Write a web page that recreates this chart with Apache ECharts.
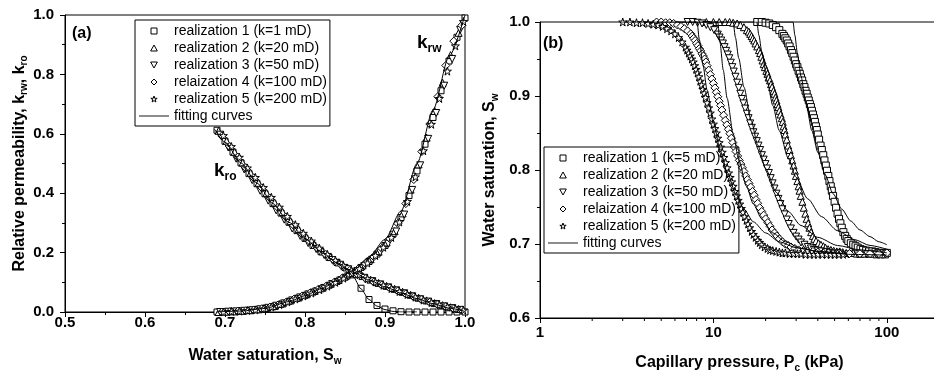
<!DOCTYPE html>
<html>
<head>
<meta charset="utf-8">
<script src="https://cdn.jsdelivr.net/npm/echarts@6/dist/echarts.min.js"></script>
<style>
  html, body { margin: 0; padding: 0; background: #fff; }
  #chart { width: 934px; height: 376px; }
</style>
</head>
<body>
<div id="chart"></div>
<script>
// ---- (a) relative permeability ----
const leftNames = ["realization 1 (k=1 mD)", "realization 2 (k=20 mD)", "realization 3 (k=50 mD)", "relaization 4 (k=100 mD)", "realization 5 (k=200 mD)"];

const swR1 = [0.690,0.700,0.710,0.720,0.730,0.740,0.750,0.760,0.770,0.780,0.790,0.800,0.810,0.820,0.830,0.840,0.850,0.860,0.870,0.880,0.890,0.900,0.910,0.920,0.930,0.940,0.950,0.960,0.970,0.980,0.990,1.000];
const krwR1 = [0.000,0.001,0.002,0.003,0.005,0.008,0.012,0.018,0.026,0.036,0.046,0.056,0.067,0.078,0.090,0.103,0.117,0.132,0.150,0.170,0.195,0.224,0.262,0.318,0.392,0.475,0.565,0.655,0.745,0.845,0.925,0.990];
const kroR1 = [0.612,0.575,0.538,0.502,0.466,0.432,0.398,0.365,0.333,0.302,0.274,0.248,0.224,0.203,0.184,0.167,0.150,0.125,0.080,0.042,0.022,0.010,0.004,0.001,0.000,0.000,0.000,0.000,0.000,0.000,0.000,0.000];

const swR2 = [0.692,0.702,0.712,0.722,0.732,0.742,0.752,0.762,0.772,0.782,0.792,0.802,0.812,0.822,0.832,0.842,0.852,0.862,0.872,0.882,0.892,0.902,0.912,0.922,0.932,0.942,0.952,0.962,0.972,0.982,0.992];
const krwR2 = [0.000,0.001,0.002,0.004,0.006,0.009,0.014,0.020,0.029,0.039,0.049,0.060,0.071,0.082,0.095,0.108,0.123,0.139,0.157,0.178,0.203,0.234,0.272,0.332,0.412,0.497,0.587,0.677,0.772,0.865,0.940];
const kroR2 = [0.610,0.576,0.539,0.503,0.469,0.435,0.401,0.369,0.337,0.306,0.279,0.251,0.226,0.204,0.185,0.167,0.150,0.134,0.121,0.109,0.098,0.088,0.078,0.068,0.058,0.048,0.039,0.030,0.023,0.016,0.010];

const swR3 = [0.694,0.704,0.714,0.724,0.734,0.744,0.754,0.764,0.774,0.784,0.794,0.804,0.814,0.824,0.834,0.844,0.854,0.864,0.874,0.884,0.894,0.904,0.914,0.924,0.934,0.944,0.954,0.964,0.974,0.984,0.994];
const krwR3 = [0.000,0.001,0.002,0.004,0.006,0.009,0.014,0.021,0.029,0.039,0.049,0.059,0.069,0.081,0.094,0.106,0.120,0.136,0.154,0.176,0.201,0.230,0.271,0.328,0.411,0.494,0.583,0.670,0.762,0.852,0.950];
const kroR3 = [0.597,0.554,0.516,0.480,0.444,0.408,0.375,0.342,0.311,0.281,0.256,0.232,0.212,0.192,0.175,0.159,0.144,0.128,0.115,0.104,0.093,0.083,0.073,0.063,0.053,0.043,0.035,0.027,0.019,0.013,0.007];

const swR4 = [0.696,0.706,0.716,0.726,0.736,0.746,0.756,0.766,0.776,0.786,0.796,0.806,0.816,0.826,0.836,0.846,0.856,0.866,0.876,0.886,0.896,0.906,0.916,0.926,0.936,0.946,0.956,0.966,0.976,0.986,0.996];
const krwR4 = [0.000,0.001,0.003,0.004,0.007,0.011,0.016,0.023,0.032,0.043,0.053,0.064,0.075,0.086,0.099,0.113,0.127,0.144,0.163,0.186,0.214,0.247,0.298,0.365,0.446,0.540,0.633,0.725,0.830,0.912,0.965];
const kroR4 = [0.593,0.557,0.522,0.486,0.452,0.418,0.384,0.352,0.320,0.291,0.263,0.238,0.214,0.194,0.175,0.157,0.140,0.126,0.113,0.101,0.091,0.081,0.071,0.061,0.051,0.042,0.033,0.025,0.018,0.011,0.007];

const swR5 = [0.698,0.708,0.718,0.728,0.738,0.748,0.758,0.768,0.778,0.788,0.798,0.808,0.818,0.828,0.838,0.848,0.858,0.868,0.878,0.888,0.898,0.908,0.918,0.928,0.938,0.948,0.958,0.968,0.978,0.988,0.998];
const krwR5 = [0.000,0.002,0.003,0.005,0.007,0.011,0.017,0.025,0.034,0.044,0.054,0.064,0.075,0.087,0.100,0.114,0.129,0.146,0.165,0.190,0.218,0.251,0.303,0.372,0.455,0.543,0.632,0.719,0.811,0.896,0.978];
const kroR5 = [0.594,0.557,0.521,0.485,0.453,0.419,0.386,0.353,0.322,0.294,0.265,0.239,0.215,0.194,0.174,0.156,0.140,0.126,0.112,0.101,0.090,0.079,0.069,0.059,0.050,0.040,0.032,0.024,0.017,0.011,0.006];

// fitting curves (a)
const fitKrwSw = [0.690,0.720,0.750,0.780,0.800,0.820,0.840,0.860,0.880,0.900,0.920,0.940,0.960,0.980,1.000];
const fitKrw = [0.000,0.003,0.012,0.035,0.055,0.078,0.105,0.140,0.185,0.245,0.340,0.500,0.680,0.860,1.000];
const fitKroSw = [0.687,0.700,0.720,0.740,0.760,0.780,0.800,0.820,0.840,0.860,0.880,0.900,0.920,0.940,0.960,0.980,1.000];
const fitKro = [0.615,0.572,0.502,0.434,0.365,0.302,0.248,0.203,0.166,0.135,0.108,0.085,0.064,0.045,0.028,0.013,0.002];
const fitKroSteepSw = [0.840,0.850,0.860,0.870,0.880,0.890,0.900,0.910,0.920,0.940];
const fitKroSteep = [0.166,0.148,0.120,0.078,0.042,0.020,0.008,0.002,0.000,0.000];

// ---- (b) capillary pressure ----
const rightNames = ["realization 1 (k=5 mD)", "realization 2 (k=20 mD)", "realization 3 (k=50 mD)", "relaization 4 (k=100 mD)", "realization 5 (k=200 mD)"];

const pcR1 = [17.9,19,20,21,22,23,24,25,25.5,26,26.5,27,27.5,28,28.5,29,29.5,30,30.5,31,31.5,32,32.5,33,33.5,34,34.5,35,35.5,36,36.5,37,37.5,38,38.5,39,39.5,40,40.7,41.5,42.2,43,43.7,44.5,45.2,46,46.7,47.5,48.2,49,50,51,52,53,54,55,56.2,57.5,58.7,60,62,64,66,68,70.5,73,76,79,82.5,86,89.5,93,96.5,100];
const swPcR1 = [1.000,1.000,0.999,0.998,0.996,0.993,0.989,0.984,0.981,0.978,0.975,0.971,0.967,0.962,0.958,0.953,0.948,0.943,0.939,0.934,0.930,0.925,0.921,0.916,0.912,0.907,0.903,0.898,0.894,0.889,0.885,0.880,0.875,0.870,0.865,0.859,0.854,0.848,0.841,0.833,0.827,0.820,0.813,0.806,0.799,0.792,0.785,0.778,0.772,0.765,0.757,0.749,0.741,0.734,0.728,0.722,0.716,0.711,0.707,0.704,0.701,0.699,0.697,0.695,0.693,0.692,0.691,0.690,0.690,0.689,0.688,0.688,0.688,0.688];

const pcR2 = [9.1,10.0,10.8,11.7,12.4,13.0,13.7,14.3,15.0,15.6,16.0,16.3,16.6,16.9,17.2,17.5,17.9,18.3,18.6,18.9,19.2,19.5,19.8,20.2,20.5,20.8,21.2,21.5,21.8,22.2,22.5,22.8,23.1,23.4,23.7,24.0,24.4,24.8,25.1,25.4,25.7,26.0,26.5,27.0,27.5,28.0,28.5,29.0,29.5,29.9,30.5,31.0,31.4,31.9,32.6,33.2,33.9,34.5,35.2,35.8,36.6,37.5,38.2,39.1,40.4,41.7,43.1,44.3,45.9,47.6,49.4,51.5,53.6,55.7,58.3,60.9,64,67.2,70.4,74.6,78.8,83,87.2,92.4,97.7];
const swPcR2 = [1.000,1.000,1.000,1.000,1.000,0.999,0.998,0.996,0.993,0.989,0.987,0.984,0.981,0.978,0.975,0.971,0.967,0.962,0.958,0.953,0.948,0.943,0.939,0.934,0.930,0.925,0.921,0.916,0.912,0.907,0.903,0.898,0.894,0.889,0.885,0.880,0.875,0.870,0.865,0.859,0.854,0.848,0.841,0.833,0.827,0.820,0.813,0.806,0.799,0.792,0.785,0.778,0.772,0.765,0.757,0.749,0.741,0.734,0.728,0.722,0.716,0.711,0.707,0.704,0.701,0.699,0.697,0.695,0.693,0.692,0.691,0.690,0.690,0.689,0.688,0.688,0.688,0.687,0.687,0.687,0.687,0.687,0.686,0.686,0.686];

const pcR3 = [7.1,7.6,8.1,8.6,9.1,9.6,10.1,10.6,10.85,11.1,11.35,11.6,11.85,12.1,12.35,12.6,12.85,13.1,13.4,13.7,14.0,14.3,14.6,14.9,15.25,15.6,15.95,16.3,16.65,17.0,17.4,17.8,18.2,18.6,19.05,19.5,19.95,20.4,20.9,21.4,21.95,22.5,23.1,23.7,24.35,25.0,25.75,26.5,27.2,28,29,30,31,32,33.5,35,36.5,38,40,42,44.5,47,50,53,60,68,77,87,98];
const swPcR3 = [1.000,1.000,0.999,0.998,0.996,0.993,0.989,0.983,0.979,0.975,0.971,0.966,0.961,0.956,0.951,0.945,0.939,0.933,0.926,0.918,0.911,0.903,0.896,0.890,0.883,0.876,0.870,0.863,0.857,0.851,0.845,0.839,0.833,0.827,0.820,0.814,0.808,0.802,0.796,0.789,0.782,0.775,0.768,0.761,0.754,0.747,0.740,0.733,0.727,0.721,0.715,0.710,0.706,0.702,0.699,0.696,0.694,0.692,0.691,0.690,0.689,0.688,0.687,0.687,0.686,0.686,0.686,0.686,0.686];

const pcR4 = [4.7,5.0,5.3,5.6,5.9,6.2,6.5,6.8,7.1,7.4,7.55,7.7,7.85,8.0,8.15,8.3,8.45,8.6,8.75,8.9,9.05,9.2,9.4,9.6,9.8,10.0,10.2,10.4,10.6,10.8,11.0,11.2,11.45,11.7,11.95,12.2,12.45,12.7,12.95,13.2,13.5,13.8,14.1,14.4,14.7,15.0,15.35,15.7,16.05,16.4,16.8,17.2,17.6,18.0,18.5,19.0,19.5,20.0,20.6,21.2,21.8,22.5,23.2,24,25,26,27,28,29.5,31,33,35,37.5,40,43,46,53,61,70,80,90,100];
const swPcR4 = [1.000,1.000,0.999,0.999,0.998,0.996,0.994,0.991,0.988,0.984,0.981,0.978,0.975,0.971,0.968,0.964,0.961,0.957,0.954,0.950,0.946,0.941,0.935,0.929,0.923,0.917,0.911,0.905,0.899,0.893,0.887,0.881,0.874,0.867,0.861,0.855,0.849,0.843,0.837,0.831,0.825,0.819,0.813,0.808,0.803,0.798,0.792,0.787,0.782,0.777,0.771,0.766,0.760,0.755,0.749,0.744,0.739,0.734,0.729,0.724,0.719,0.715,0.711,0.707,0.703,0.700,0.698,0.696,0.694,0.692,0.691,0.690,0.690,0.689,0.688,0.688,0.688,0.687,0.687,0.687,0.687,0.688];

const pcR5 = [3.0,3.3,3.6,3.9,4.2,4.5,4.8,5.1,5.4,5.7,6.0,6.3,6.6,6.9,7.05,7.2,7.35,7.5,7.65,7.8,7.95,8.1,8.25,8.4,8.55,8.7,8.85,9.0,9.2,9.4,9.6,9.8,10.0,10.2,10.4,10.6,10.8,11.0,11.25,11.5,11.75,12.0,12.25,12.5,12.75,13.0,13.3,13.6,13.9,14.2,14.5,14.8,15.15,15.5,15.85,16.2,16.6,17.0,17.5,18.0,18.5,19.0,19.7,20.5,21.2,22,23,24,25,26,27.5,29,30.5,32,34,36,38,40,42.5,45,47.5,50,53,56];
const swPcR5 = [1.000,1.000,0.999,0.999,0.998,0.997,0.996,0.994,0.991,0.988,0.984,0.979,0.973,0.966,0.962,0.958,0.954,0.950,0.946,0.941,0.936,0.931,0.926,0.920,0.915,0.909,0.904,0.898,0.891,0.884,0.877,0.869,0.862,0.856,0.850,0.843,0.837,0.831,0.824,0.817,0.810,0.803,0.796,0.790,0.784,0.778,0.771,0.765,0.759,0.754,0.748,0.743,0.737,0.732,0.727,0.722,0.717,0.713,0.709,0.705,0.702,0.699,0.696,0.694,0.692,0.691,0.690,0.689,0.688,0.688,0.687,0.687,0.687,0.687,0.686,0.686,0.686,0.686,0.686,0.686,0.686,0.686,0.686,0.686];

// fitting curves (b)
const fitPc1 = [17.9,28.8,29.5,30.5,32,34,37,40,44,49,55,62,70,80,90,100];
const fitSw1 = [1.0,1.0,0.982,0.958,0.927,0.893,0.853,0.824,0.794,0.768,0.747,0.731,0.719,0.710,0.703,0.699];
const fitPc2 = [8.7,17.8,18.3,19,20.5,22,24,27,30,35,42,52,65,80,100];
const fitSw2 = [1.0,1.0,0.982,0.960,0.919,0.887,0.853,0.816,0.790,0.761,0.737,0.718,0.706,0.698,0.693];
const fitPc3 = [7.1,13,13.4,14,15,16.5,18,20,23,27,32,40,52,70,100];
const fitSw3 = [1.0,1.0,0.979,0.951,0.912,0.867,0.834,0.802,0.770,0.744,0.725,0.709,0.698,0.692,0.688];
const fitPc4 = [4.7,10.6,10.9,11.4,12,13,14,15.5,17,19,22,26,32,42,60,100];
const fitSw4 = [1.0,1.0,0.973,0.935,0.897,0.849,0.814,0.778,0.754,0.734,0.715,0.703,0.694,0.689,0.686,0.685];
const fitPc5 = [2.9,8.05,8.3,8.7,9.2,10,11,12,13.5,15,17,20,24,30,40,57];
const fitSw5 = [1.0,1.0,0.976,0.942,0.908,0.864,0.825,0.797,0.767,0.747,0.730,0.715,0.703,0.695,0.690,0.687];

// minor ticks of the log axis
const pcMinorTicks = [2,3,4,5,6,7,8,9,20,30,40,50,60,70,80,90];

const FONT = '"Liberation Sans", Arial, sans-serif';
// path symbols keep their shape in the legend too
const SQUARE = "path://M0,0 L10,0 L10,10 L0,10 Z";
const TRI_UP = "path://M5,0 L10,9 L0,9 Z";
const TRI_DOWN = "path://M0,0 L10,0 L5,9 Z";
const DIAMOND = "path://M5,0 L10,5 L5,10 L0,5 Z";
const STAR = "path://M50,0 L61,35 L98,35 L68,57 L79,91 L50,70 L21,91 L32,57 L2,35 L39,35 Z";
const markers = [
  { symbol: SQUARE, size: 6 },
  { symbol: TRI_UP, size: 7 },
  { symbol: TRI_DOWN, size: 7 },
  { symbol: DIAMOND, size: 8 },
  { symbol: STAR, size: 8 },
];
const markerStyle = { color: "#fff", borderColor: "#000", borderWidth: 1, opacity: 1 };

const zip = (xs, ys) => xs.map((x, i) => [x, ys[i]]);

const leftSets = [
  [swR1, krwR1, kroR1], [swR2, krwR2, kroR2], [swR3, krwR3, kroR3],
  [swR4, krwR4, kroR4], [swR5, krwR5, kroR5],
];
const rightSets = [[pcR1, swPcR1], [pcR2, swPcR2], [pcR3, swPcR3], [pcR4, swPcR4], [pcR5, swPcR5]];

const fitLine = (data, xi) => ({
  name: "fitting curves",
  type: "line",
  xAxisIndex: xi,
  yAxisIndex: xi,
  data,
  symbol: "none",
  showSymbol: false,
  smooth: 0.25,
  smoothMonotone: "x",
  lineStyle: { color: "#000", width: 1 },
  itemStyle: { color: "#000" },
  silent: true,
});

const scatter = (name, data, i, xi) => ({
  name,
  type: "scatter",
  xAxisIndex: xi,
  yAxisIndex: xi,
  data,
  symbol: markers[i].symbol,
  symbolSize: xi === 1 && i === 0 ? 7 : markers[i].size,
  itemStyle: markerStyle,
  silent: true,
});

const series = [
  fitLine(zip(fitKroSw, fitKro), 0),
  fitLine(zip(fitKroSteepSw, fitKroSteep), 0),
  fitLine(zip(fitKrwSw, fitKrw), 0),
  fitLine(zip(fitPc1, fitSw1), 1),
  fitLine(zip(fitPc2, fitSw2), 1),
  fitLine(zip(fitPc3, fitSw3), 1),
  fitLine(zip(fitPc4, fitSw4), 1),
  fitLine(zip(fitPc5, fitSw5), 1),
];
leftSets.forEach(([sw, krw, kro], i) => {
  series.push(scatter(leftNames[i], zip(sw, krw).concat(zip(sw, kro)), i, 0));
});
rightSets.forEach(([pc, sw], i) => {
  series.push(scatter(rightNames[i], zip(pc, sw), i, 1));
});
series.push({
  type: "custom",
  xAxisIndex: 1,
  yAxisIndex: 1,
  data: pcMinorTicks.map((v) => [v, 0.6]),
  silent: true,
  clip: false,
  renderItem: (params, api) => {
    const p = api.coord([api.value(0), api.value(1)]);
    return {
      type: "line",
      shape: { x1: p[0], y1: p[1], x2: p[0], y2: p[1] + 3 },
      style: { stroke: "#000", lineWidth: 1 },
    };
  },
});

const labelStyle = { color: "#000", fontSize: 15, fontWeight: "bold", fontFamily: FONT };
const nameStyle = {
  color: "#000", fontSize: 16, fontWeight: "bold", fontFamily: FONT, lineHeight: 20,
  rich: { s: { color: "#000", fontSize: 10, fontWeight: "bold", fontFamily: FONT, padding: [10, 0, 0, 0] } },
};
const lineBlack = { show: true, lineStyle: { color: "#000", width: 1 } };
const tickOut = { show: true, inside: false, length: 5, lineStyle: { color: "#000", width: 1 } };
const minorOut = { show: true, splitNumber: 2, length: 3, lineStyle: { color: "#000", width: 1 } };

const legendItems = (names) =>
  names.map((name, i) => ({
    name,
    icon: markers[i].symbol,
    itemStyle: markerStyle,
  })).concat([{
    name: "fitting curves",
    icon: "path://M0,0 L100,0 L100,3 L0,3 Z",
    itemStyle: { color: "#000", borderWidth: 0 },
  }]);

const legendBase = {
  orient: "vertical",
  borderColor: "#000",
  borderWidth: 1,
  padding: [4, 3, 3, 4],
  itemGap: 3,
  itemWidth: 30,
  itemHeight: 6,
  symbolKeepAspect: true,
  selectedMode: false,
  backgroundColor: "transparent",
  textStyle: { color: "#000", fontSize: 14, fontFamily: FONT },
};

const option = {
  animation: false,
  backgroundColor: "#fff",
  textStyle: { fontFamily: FONT },
  grid: [
    { left: 65, top: 15, width: 400, height: 297, show: true, borderColor: "#000", borderWidth: 1, outerBoundsMode: "none" },
    { left: 540, top: 22, width: 399, height: 296, show: true, borderColor: "#000", borderWidth: 1, outerBoundsMode: "none" },
  ],
  xAxis: [
    {
      gridIndex: 0, type: "value", min: 0.5, max: 1.0, interval: 0.1,
      axisLine: lineBlack, axisTick: tickOut, minorTick: minorOut,
      splitLine: { show: false }, minorSplitLine: { show: false },
      axisLabel: { ...labelStyle, margin: 3, formatter: (v) => v.toFixed(1) },
      name: "Water saturation, S{s|w}", nameLocation: "middle", nameGap: 34, nameTextStyle: nameStyle,
    },
    {
      gridIndex: 1, type: "log", logBase: 10, min: 1, max: 200,
      axisLine: lineBlack, axisTick: tickOut,
      splitLine: { show: false },
      axisLabel: { ...labelStyle, margin: 7, showMaxLabel: false },
      name: "Capillary pressure, P{s|c} (kPa)", nameLocation: "middle", nameGap: 35, nameTextStyle: nameStyle,
    },
  ],
  yAxis: [
    {
      gridIndex: 0, type: "value", min: 0, max: 1.0, interval: 0.2,
      axisLine: lineBlack, axisTick: tickOut, minorTick: minorOut,
      splitLine: { show: false }, minorSplitLine: { show: false },
      axisLabel: { ...labelStyle, margin: 11, formatter: (v) => v.toFixed(1) },
      name: "Relative permeability, k{s|rw}, k{s|ro}", nameLocation: "middle", nameGap: 35, nameTextStyle: nameStyle,
    },
    {
      gridIndex: 1, type: "value", min: 0.6, max: 1.0, interval: 0.1,
      axisLine: lineBlack, axisTick: tickOut, minorTick: minorOut,
      splitLine: { show: false }, minorSplitLine: { show: false },
      axisLabel: { ...labelStyle, margin: 10, formatter: (v) => v.toFixed(1) },
      name: "Water saturation, S{s|w}", nameLocation: "middle", nameGap: 40, nameTextStyle: nameStyle,
    },
  ],
  legend: [
    { ...legendBase, left: 135, top: 20, data: legendItems(leftNames) },
    { ...legendBase, left: 544, top: 147, data: legendItems(rightNames) },
  ],
  graphic: [
    { type: "text", left: 72, top: 26, style: { text: "(a)", font: 'bold 16px "Liberation Sans"', fill: "#000" } },
    { type: "text", left: 543, top: 36, style: { text: "(b)", font: 'bold 16px "Liberation Sans"', fill: "#000" } },
    {
      type: "text", left: 417, top: 33,
      style: {
        text: "{k|k}{s|rw}",
        rich: {
          k: { fontSize: 19, fontWeight: "bold", fontFamily: FONT, fill: "#000", lineHeight: 24 },
          s: { fontSize: 12, fontWeight: "bold", fontFamily: FONT, fill: "#000", padding: [12, 0, 0, 0] },
        },
      },
    },
    {
      type: "text", left: 214, top: 161,
      style: {
        text: "{k|k}{s|ro}",
        rich: {
          k: { fontSize: 19, fontWeight: "bold", fontFamily: FONT, fill: "#000", lineHeight: 24 },
          s: { fontSize: 12, fontWeight: "bold", fontFamily: FONT, fill: "#000", padding: [12, 0, 0, 0] },
        },
      },
    },
  ],
  series,
};

const chart = echarts.init(document.getElementById("chart"), null, { renderer: "canvas" });
chart.setOption(option);
</script>
</body>
</html>
